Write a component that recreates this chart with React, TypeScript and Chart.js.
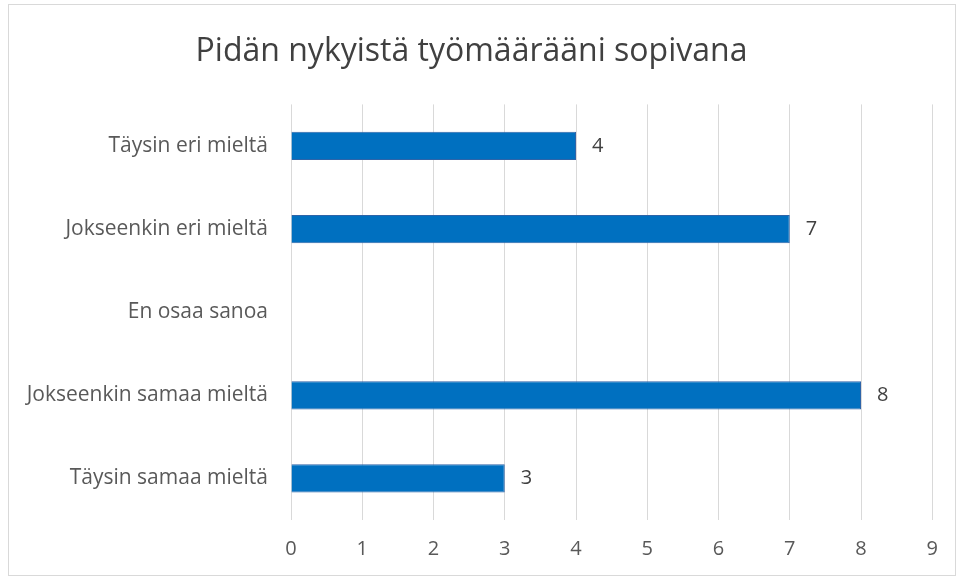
import React, { useEffect, useRef } from "react";
import { Chart, registerables } from "chart.js";

Chart.register(...registerables);

const TITLE = "Pidän nykyistä työmäärääni sopivana";
const CATEGORIES = [
  "Täysin eri mieltä",
  "Jokseenkin eri mieltä",
  "En osaa sanoa",
  "Jokseenkin samaa mieltä",
  "Täysin samaa mieltä",
];
const VALUES: (number | null)[] = [4, 7, null, 8, 3];
const X_MIN = 0;
const X_MAX = 9;

const FONT = "'Open Sans', sans-serif";
const TEXT_COLOR = "#595959";

const valueLabels = {
  id: "valueLabels",
  afterDatasetsDraw(chart: any) {
    const ctx = chart.ctx;
    const meta = chart.getDatasetMeta(0);
    ctx.save();
    ctx.font = `20px ${FONT}`;
    ctx.fillStyle = "#404040";
    ctx.textAlign = "left";
    ctx.textBaseline = "middle";
    meta.data.forEach((bar: any, i: number) => {
      const v = VALUES[i];
      if (v === null || v === undefined) return;
      ctx.fillText(String(v), bar.x + 16, bar.y);
    });
    ctx.restore();
  },
};

export default function App() {
  const canvasRef = useRef<HTMLCanvasElement | null>(null);

  useEffect(() => {
    document.body.style.margin = "0";
    const canvas = canvasRef.current;
    if (!canvas) return;
    const chart = new Chart(canvas, {
      type: "bar",
      data: {
        labels: CATEGORIES,
        datasets: [
          {
            data: VALUES,
            backgroundColor: "#0070C0",
            borderColor: "#2E64A8",
            borderWidth: 1,
            barPercentage: 0.34,
            categoryPercentage: 1,
          },
        ],
      },
      options: {
        indexAxis: "y",
        animation: false,
        responsive: false,
        maintainAspectRatio: false,
        layout: { padding: { top: 28, right: 21, bottom: 0, left: 0 } },
        plugins: {
          legend: { display: false },
          tooltip: { enabled: false },
          title: {
            display: true,
            text: TITLE,
            color: "#404040",
            font: { family: FONT, size: 32, weight: "normal" },
            padding: { top: 0, bottom: 33 },
          },
        },
        scales: {
          x: {
            min: X_MIN,
            max: X_MAX,
            border: { display: false },
            grid: { color: "#D9D9D9", lineWidth: 1, drawTicks: false },
            ticks: {
              stepSize: 1,
              color: TEXT_COLOR,
              font: { family: FONT, size: 20 },
              padding: 17,
            },
            afterFit: (scale: any) => {
              scale.height = 55;
            },
          },
          y: {
            border: { display: false },
            grid: { display: false, drawTicks: false },
            ticks: {
              color: TEXT_COLOR,
              font: { family: FONT, size: 21 },
              padding: 23,
            },
            afterFit: (scale: any) => {
              scale.width = 282;
            },
          },
        },
      },
      plugins: [valueLabels],
    });
    return () => chart.destroy();
  }, []);

  return (
    <div style={{ position: "relative", width: 959, height: 578, background: "#fff" }}>
      <div
        style={{
          position: "absolute",
          left: 8,
          top: 4,
          width: 946,
          height: 570,
          border: "1px solid #D9D9D9",
        }}
      >
        <canvas ref={canvasRef} width={946} height={570} style={{ display: "block" }} />
      </div>
    </div>
  );
}
